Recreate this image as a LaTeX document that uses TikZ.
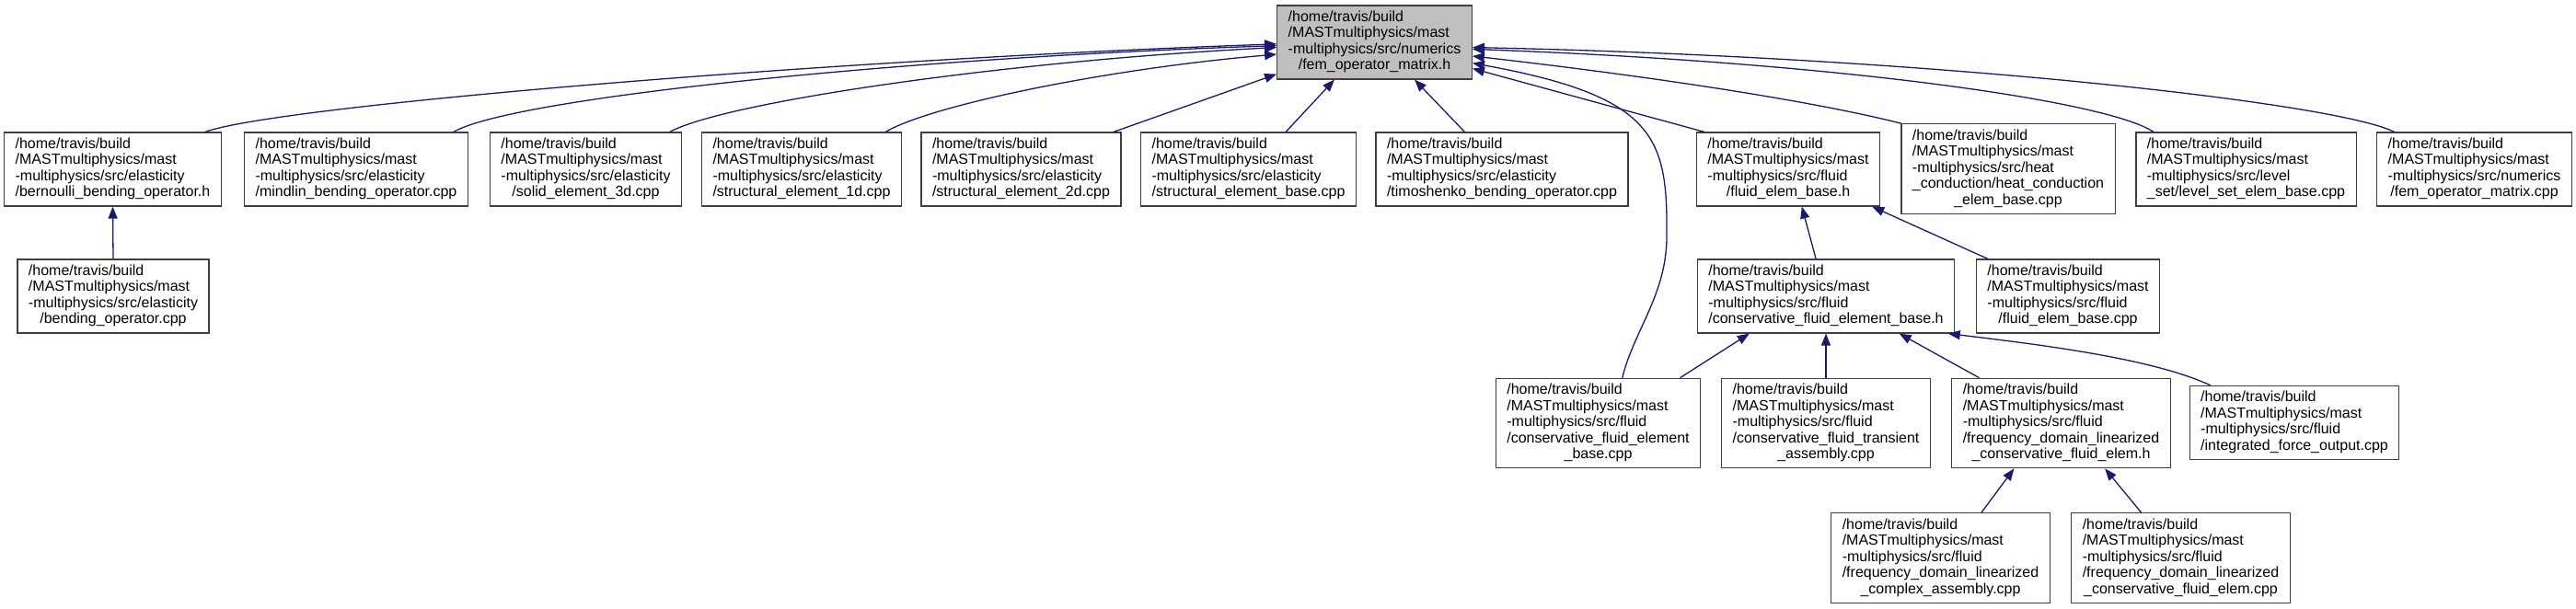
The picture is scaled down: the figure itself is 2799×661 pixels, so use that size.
\documentclass[tikz,border=0pt]{standalone}
\usepackage{fontspec}
\setmainfont{Liberation Sans}
\usepackage{tikz}
\usetikzlibrary{arrows.meta}
\definecolor{edgeblue}{HTML}{191970}
\definecolor{boxline}{HTML}{404040}
\newcommand{\srcpath}[2]{\begin{tabular}{@{}l@{}}/home/travis/build\\/MASTmultiphysics/mast\\#1\\\multicolumn{1}{@{}c@{}}{#2}\end{tabular}}

\begin{document}
\begin{tikzpicture}[x=1pt,y=-1pt,
  file/.style={draw=boxline,line width=1.2pt,fill=white,inner xsep=12pt,inner ysep=5pt,font=\fontsize{16}{17.5}\selectfont},
  dep/.style={draw=edgeblue,line width=1.3pt,-{Triangle[length=13pt,width=10pt]}}]
\useasboundingbox (0,0) rectangle (2799,661);
% the header itself
\node[file,fill=black!25] (fomh) at (1493.5,46) {\srcpath{-multiphysics/src/numerics}{/fem\_operator\_matrix.h}};
% direct includers
\node[file] (bern) at (122.5,184) {\srcpath{-multiphysics/src/elasticity}{/bernoulli\_bending\_operator.h}};
\node[file] (mind) at (387,184) {\srcpath{-multiphysics/src/elasticity}{/mindlin\_bending\_operator.cpp}};
\node[file] (solid) at (636.5,184) {\srcpath{-multiphysics/src/elasticity}{/solid\_element\_3d.cpp}};
\node[file] (sone) at (871,184) {\srcpath{-multiphysics/src/elasticity}{/structural\_element\_1d.cpp}};
\node[file] (stwo) at (1109.5,184) {\srcpath{-multiphysics/src/elasticity}{/structural\_element\_2d.cpp}};
\node[file] (sbase) at (1356.5,184) {\srcpath{-multiphysics/src/elasticity}{/structural\_element\_base.cpp}};
\node[file] (timo) at (1632,184) {\srcpath{-multiphysics/src/elasticity}{/timoshenko\_bending\_operator.cpp}};
\node[file] (febh) at (1943,184) {\srcpath{-multiphysics/src/fluid}{/fluid\_elem\_base.h}};
\node[file] (heat) at (2182,183.5) {\srcpath{-multiphysics/src/heat\\\_conduction/heat\_conduction}{\_elem\_base.cpp}};
\node[file] (lset) at (2440.5,184) {\srcpath{-multiphysics/src/level}{\_set/level\_set\_elem\_base.cpp}};
\node[file] (femcpp) at (2688.5,184) {\srcpath{-multiphysics/src/numerics}{/fem\_operator\_matrix.cpp}};
% second level
\node[file] (bendcpp) at (123,322) {\srcpath{-multiphysics/src/elasticity}{/bending\_operator.cpp}};
\node[file] (cfebh) at (1984,322) {\srcpath{-multiphysics/src/fluid}{/conservative\_fluid\_element\_base.h}};
\node[file] (febcpp) at (2247,322) {\srcpath{-multiphysics/src/fluid}{/fluid\_elem\_base.cpp}};
% third level
\node[file] (cfebcpp) at (1736.5,460) {\srcpath{-multiphysics/src/fluid\\/conservative\_fluid\_element}{\_base.cpp}};
\node[file] (trans) at (1984,460) {\srcpath{-multiphysics/src/fluid\\/conservative\_fluid\_transient}{\_assembly.cpp}};
\node[file] (fdlh) at (2239.5,460) {\srcpath{-multiphysics/src/fluid\\/frequency\_domain\_linearized}{\_conservative\_fluid\_elem.h}};
\node[file] (intf) at (2493,459.5) {\srcpath{-multiphysics/src/fluid}{/integrated\_force\_output.cpp}};
% fourth level
\node[file] (cplx) at (2108.5,606.5) {\srcpath{-multiphysics/src/fluid\\/frequency\_domain\_linearized}{\_complex\_assembly.cpp}};
\node[file] (fdlcpp) at (2369.5,606.5) {\srcpath{-multiphysics/src/fluid\\/frequency\_domain\_linearized}{\_conservative\_fluid\_elem.cpp}};
% straight edges
\foreach \a/\b in {stwo.22.7/fomh.198.5,sbase.45.4/fomh.223.3,timo.135.7/fomh.317.4,
  febh.156.7/fomh.345.5,bendcpp.north/bern.south,cfebh.105.4/febh.290.6,
  febcpp.155.3/febh.336.5,cfebcpp.29.2/cfebh.206.3,trans.north/cfebh.south,
  fdlh.151.3/cfebh.333.1,cplx.48.1/fdlh.224.7,fdlcpp.131.2/fdlh.314.7}
  \draw[dep] (\a) -- (\b);
% curved edges
\draw[dep] (bern.22.3) .. controls (300,115) and (900,65) .. (fomh.181);
\draw[dep] (mind.21.8) .. controls (560,105) and (1000,62) .. (fomh.182.2);
\draw[dep] (solid.24.6) .. controls (790,110) and (1100,66) .. (fomh.183.8);
\draw[dep] (sone.24) .. controls (1010,115) and (1200,75) .. (fomh.187.1);
\draw[dep] (heat.157) .. controls (1950,105) and (1750,78) .. (fomh.352.4);
\draw[dep] (lset.158.1) .. controls (2290,110) and (2000,68) .. (fomh.356.2);
\draw[dep] (femcpp.155.4) .. controls (2540,112) and (2100,62) .. (fomh.357.3);
\draw[dep] (cfebcpp.62.5) .. controls (1775,360) and (1811,320) .. (1811,257)
  .. controls (1812,150) and (1800,105) .. (fomh.348.1);
\draw[dep] (intf.156.9) .. controls (2340,390) and (2220,375) .. (cfebh.343.9);
\end{tikzpicture}
\end{document}
